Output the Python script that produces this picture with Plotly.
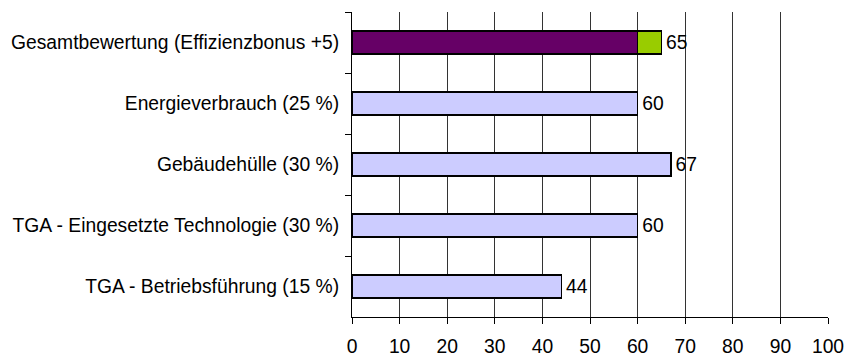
import plotly.graph_objects as go

categories = [
    "Gesamtbewertung (Effizienzbonus +5)",
    "Energieverbrauch (25 %)",
    "Gebäudehülle (30 %)",
    "TGA - Eingesetzte Technologie (30 %)",
    "TGA - Betriebsführung (15 %)",
]
base_values = [60, 60, 67, 60, 44]
bonus_values = [5, None, None, None, None]
base_labels = ["", "60", "67", "60", "44"]
bonus_labels = ["65", "", "", "", ""]
base_colors = ["#660066", "#ccccff", "#ccccff", "#ccccff", "#ccccff"]
bonus_color = "#99cc00"
x_ticks = list(range(0, 101, 10))

FONT = "Liberation Sans, Arial, sans-serif"
FS = 19.3

fig = go.Figure()
fig.add_trace(go.Bar(
    y=categories, x=base_values, orientation="h",
    marker=dict(color=base_colors, line=dict(color="black", width=1.5)),
    text=base_labels, texttemplate="\u200a%{text}", textposition="outside", cliponaxis=False,
    textfont=dict(family=FONT, size=FS, color="black"),
    hoverinfo="skip",
))
fig.add_trace(go.Bar(
    y=categories, x=bonus_values, orientation="h",
    marker=dict(color=bonus_color, line=dict(color="black", width=1.5)),
    text=bonus_labels, texttemplate="\u200a%{text}", textposition="outside", cliponaxis=False,
    textfont=dict(family=FONT, size=FS, color="black"),
    hoverinfo="skip",
))

fig.update_layout(
    width=854, height=356,
    margin=dict(l=352, r=26, t=12, b=39),
    barmode="stack", bargap=0.62,
    showlegend=False,
    plot_bgcolor="white", paper_bgcolor="white",
    font=dict(family=FONT, size=FS, color="black"),
)
fig.update_xaxes(
    range=[0, 100], tickvals=x_ticks, ticktext=[str(v) for v in x_ticks],
    showgrid=True, gridcolor="#333333", gridwidth=1,
    showline=True, linecolor="black", linewidth=1,
    ticks="outside", ticklen=6, tickcolor="black", ticklabelstandoff=6,
    zeroline=False, automargin=False,
    tickfont=dict(family=FONT, size=FS, color="black"),
)
fig.update_yaxes(
    autorange="reversed", type="category",
    showline=True, linecolor="black", linewidth=1,
    ticks="outside", ticklen=6, tickcolor="black", tickson="boundaries",
    ticklabelstandoff=8, automargin=False,
    showgrid=False, tickfont=dict(family=FONT, size=FS, color="black"),
)

fig.write_html("out.html")
